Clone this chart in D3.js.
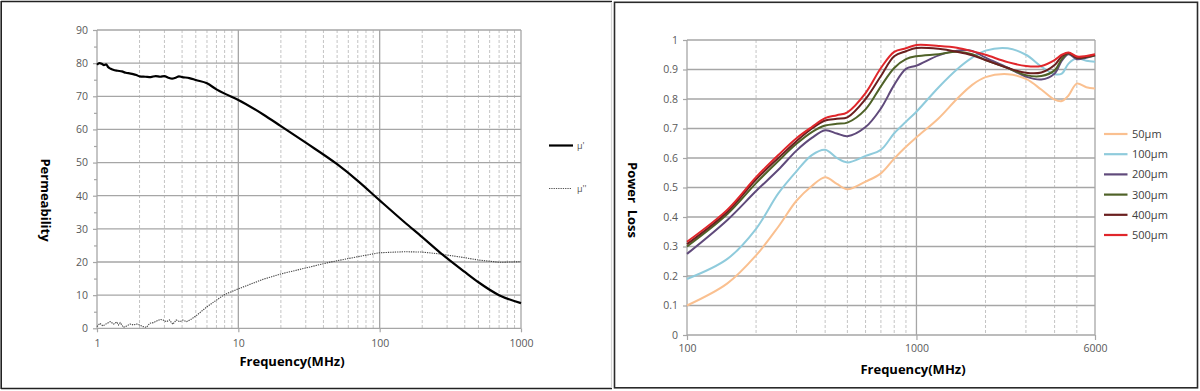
<!DOCTYPE html>
<meta charset="utf-8">
<head>
<style>
 body { margin: 0; background: #fff; }
 svg { display: block; }
 text { font-family: "Open Sans", sans-serif; }
 .tick text { fill: #595959; font-size: 10.5px; }
 .domain { display: none; }
 .title { font-weight: bold; font-size: 13px; fill: #000; }
</style>
</head>
<body>
<svg width="1200" height="391"></svg>
<script src="https://cdn.jsdelivr.net/npm/d3@7"></script>
<script>
  // permeability (left)
  var muRealFreq = [1, 1.04, 1.08, 1.12, 1.16, 1.2, 1.25, 1.3, 1.4, 1.5, 1.6, 1.7, 1.8, 1.9, 2, 2.2, 2.4, 2.6, 2.8, 3,
                    3.2, 3.4, 3.6, 3.8, 4, 4.5, 5, 6, 7, 8, 10, 15, 20, 30, 50, 70, 100, 150, 200, 270, 400, 500, 700, 1000];
  var muReal = [79.5, 80, 79.8, 79.4, 79.6, 78.8, 78.3, 78, 77.7, 77.5, 77.1, 76.9, 76.7, 76.4, 76, 75.9, 75.8, 76.1, 75.9, 76.1,
                75.6, 75.3, 75.6, 76, 75.8, 75.5, 74.9, 73.9, 72.1, 70.8, 68.9, 64.5, 61, 56, 49.5, 44.5, 38.6, 32, 27.5, 22.7,
                17, 13.9, 10, 7.6];
  var muImagFreq = [1, 1.05, 1.1, 1.18, 1.24, 1.31, 1.38, 1.42, 1.46, 1.54, 1.62, 1.72, 1.81, 1.91, 2, 2.12, 2.24, 2.36, 2.5, 2.8,
                    2.94, 3.1, 3.26, 3.44, 3.63, 3.87, 4.05, 4.3, 4.63, 5.1, 6, 7, 8, 10, 15, 20, 30, 45, 70, 100,
                    150, 200, 270, 400, 500, 700, 1000];
  var muImag = [0.5, 1.5, 0.7, 1.5, 2, 1.3, 1.9, 1, 1.7, 0.3, 0.7, 1.3, 1, 1.3, 1, 0.5, 0.3, 1.5, 1.7, 2.7,
                2.5, 2, 2.5, 1.2, 2.5, 2, 2.5, 2, 2.7, 4, 6.5, 8.5, 10.2, 11.9, 14.8, 16.4, 18.2, 20, 21.6, 22.8,
                23.1, 23, 22.4, 21.3, 20.6, 19.9, 20.1];
  var muLabels = ["\u03bc'", "\u03bc''"];
  var permTicks = [0, 10, 20, 30, 40, 50, 60, 70, 80, 90];
  var permFreqTicks = [1, 10, 100, 1000];

  // power loss (right)
  var lossFreq = [100, 150, 200, 250, 300, 350, 400, 450, 500, 600, 700, 800, 900, 1000, 1250, 1500, 1750, 2000,
                  2500, 3000, 3500, 4000, 4300, 4600, 5000, 5500, 6000];
  var loss50  = [0.100, 0.175, 0.270, 0.367, 0.455, 0.505, 0.535, 0.512, 0.494, 0.520, 0.548, 0.598, 0.638, 0.670, 0.735, 0.800, 0.848, 0.874,
                 0.884, 0.868, 0.832, 0.798, 0.793, 0.812, 0.852, 0.840, 0.836];
  var loss100 = [0.190, 0.258, 0.360, 0.480, 0.555, 0.610, 0.628, 0.600, 0.585, 0.607, 0.628, 0.684, 0.723, 0.757, 0.840, 0.900, 0.940, 0.964,
                 0.972, 0.950, 0.910, 0.884, 0.886, 0.920, 0.938, 0.930, 0.926];
  var loss200 = [0.275, 0.390, 0.488, 0.560, 0.625, 0.668, 0.694, 0.683, 0.674, 0.705, 0.768, 0.848, 0.902, 0.913, 0.948, 0.964, 0.963, 0.940,
                 0.906, 0.876, 0.866, 0.886, 0.930, 0.952, 0.935, 0.940, 0.947];
  var loss300 = [0.300, 0.410, 0.515, 0.590, 0.648, 0.688, 0.710, 0.716, 0.720, 0.765, 0.843, 0.905, 0.935, 0.945, 0.952, 0.960, 0.952, 0.932,
                 0.905, 0.881, 0.878, 0.897, 0.935, 0.955, 0.940, 0.942, 0.948];
  var loss400 = [0.308, 0.418, 0.527, 0.600, 0.657, 0.700, 0.727, 0.733, 0.738, 0.800, 0.878, 0.945, 0.962, 0.973, 0.970, 0.960, 0.948, 0.932,
                 0.905, 0.889, 0.890, 0.915, 0.945, 0.956, 0.940, 0.943, 0.950];
  var loss500 = [0.316, 0.425, 0.535, 0.610, 0.667, 0.705, 0.735, 0.745, 0.755, 0.820, 0.905, 0.960, 0.972, 0.983, 0.980, 0.974, 0.962, 0.950,
                 0.925, 0.912, 0.912, 0.932, 0.950, 0.958, 0.944, 0.946, 0.952];
  var lossNames = ["50\u03bcm", "100\u03bcm", "200\u03bcm", "300\u03bcm", "400\u03bcm", "500\u03bcm"];
  var lossColors = ["#fac090", "#8fcbdc", "#604a7b", "#4f6228", "#6a1f1f", "#e0262b"];
  var lossTicks = [0, 0.1, 0.2, 0.3, 0.4, 0.5, 0.6, 0.7, 0.8, 0.9, 1];
  var lossFreqTicks = [100, 1000, 6000];

  var svg = d3.select('svg');

  // panel frames
  var frames = svg.append('g');
  frames.append('line').attr('x1', 1).attr('x2', 612).attr('y1', 1.5).attr('y2', 1.5);
  frames.append('line').attr('x1', 1).attr('x2', 612).attr('y1', 388.5).attr('y2', 388.5);
  frames.append('line').attr('x1', 1.2).attr('x2', 1.2).attr('y1', 1).attr('y2', 389);
  frames.selectAll('line').attr('stroke', '#222').attr('stroke-width', 1.6);
  frames.append('line').attr('x1', 611.5).attr('x2', 611.5).attr('y1', 2).attr('y2', 388)
    .attr('stroke', '#d4d4d4').attr('stroke-width', 1.2);
  frames.append('rect').attr('x', 614.5).attr('y', 2.3).attr('width', 583).attr('height', 385.5)
    .attr('fill', 'none').attr('stroke', '#2a2a2a').attr('stroke-width', 1.6);

  function minorDecades(lo, hi) {
    var out = [];
    for (var d = lo; d < hi; d *= 10)
      for (var k = 2; k <= 9; k++) if (d * k < hi) out.push(d * k);
    return out;
  }

  // ---------- left chart ----------
  var xL = d3.scaleLog().domain([1, 1000]).range([97, 521]);
  var yL = d3.scaleLinear().domain([0, 90]).range([328.3, 30]);
  var gL = svg.append('g');

  gL.selectAll('.vminor').data(minorDecades(1, 1000)).enter().append('line')
    .attr('x1', d => xL(d)).attr('x2', d => xL(d)).attr('y1', yL(90)).attr('y2', yL(0))
    .attr('stroke', '#c4c4c4').attr('stroke-width', 1).attr('stroke-dasharray', '3,2');
  gL.selectAll('.hgrid').data(permTicks).enter().append('line')
    .attr('x1', xL(1)).attr('x2', xL(1000)).attr('y1', d => yL(d)).attr('y2', d => yL(d))
    .attr('stroke', '#a6a6a6').attr('stroke-width', 1.3);
  gL.selectAll('.vmajor').data(permFreqTicks).enter().append('line')
    .attr('x1', d => xL(d)).attr('x2', d => xL(d)).attr('y1', yL(90)).attr('y2', yL(0))
    .attr('stroke', '#a6a6a6').attr('stroke-width', 1.3);

  var axL = gL.append('g').attr('transform', 'translate(' + xL(1) + ',0)')
    .call(d3.axisLeft(yL).tickValues(permTicks).tickSize(4).tickPadding(5));
  gL.append('g').attr('transform', 'translate(' + xL(1) + ',0)')
    .call(d3.axisLeft(yL).tickValues(permTicks.slice(0, -1).map(d => d + 5)).tickSize(3).tickFormat(''));
  gL.append('g').attr('transform', 'translate(0,' + yL(0) + ')')
    .call(d3.axisBottom(xL).tickValues(permFreqTicks).tickFormat(d3.format('d')).tickSize(4).tickPadding(7));
  gL.selectAll('.tick line').attr('stroke', '#a6a6a6').attr('stroke-width', 1.2);

  var lineL = d3.line().x(d => xL(d[0])).y(d => yL(d[1]));
  gL.append('path').datum(d3.zip(muImagFreq, muImag))
    .attr('d', lineL).attr('fill', 'none').attr('stroke', '#444').attr('stroke-width', 1.1)
    .attr('stroke-dasharray', '1.3,1');
  gL.append('path').datum(d3.zip(muRealFreq, muReal))
    .attr('d', lineL.curve(d3.curveMonotoneX)).attr('fill', 'none').attr('stroke', '#000').attr('stroke-width', 2.2);

  gL.append('text').attr('class', 'title').attr('x', 292).attr('y', 366)
    .attr('text-anchor', 'middle').text('Frequency(MHz)');
  gL.append('text').attr('class', 'title').attr('transform', 'translate(41,200) rotate(90)')
    .attr('text-anchor', 'middle').text('Permeability');

  var legL = gL.append('g');
  legL.append('line').attr('x1', 549).attr('x2', 573).attr('y1', 145.5).attr('y2', 145.5)
    .attr('stroke', '#000').attr('stroke-width', 2.2);
  legL.append('line').attr('x1', 549).attr('x2', 571).attr('y1', 188.5).attr('y2', 188.5)
    .attr('stroke', '#555').attr('stroke-width', 1).attr('stroke-dasharray', '1.3,1');
  legL.selectAll('text').data(muLabels).enter().append('text')
    .attr('x', 577).attr('y', (d, i) => i ? 192 : 149)
    .attr('font-size', 9).attr('fill', '#555').text(d => d);

  // ---------- right chart ----------
  var xR = d3.scaleLog().domain([100, 6000]).range([687, 1095]);
  var yR = d3.scaleLinear().domain([0, 1]).range([335, 40]);
  var gR = svg.append('g');

  gR.selectAll('.vminor').data(minorDecades(100, 6000)).enter().append('line')
    .attr('x1', d => xR(d)).attr('x2', d => xR(d)).attr('y1', yR(1)).attr('y2', yR(0))
    .attr('stroke', '#c4c4c4').attr('stroke-width', 1).attr('stroke-dasharray', '3,2');
  gR.selectAll('.hgrid').data(lossTicks).enter().append('line')
    .attr('x1', xR(100)).attr('x2', xR(6000)).attr('y1', d => yR(d)).attr('y2', d => yR(d))
    .attr('stroke', '#a6a6a6').attr('stroke-width', 1.3);
  gR.selectAll('.vmajor').data(lossFreqTicks).enter().append('line')
    .attr('x1', d => xR(d)).attr('x2', d => xR(d)).attr('y1', yR(1)).attr('y2', yR(0))
    .attr('stroke', '#a6a6a6').attr('stroke-width', 1.3);

  gR.append('g').attr('transform', 'translate(' + xR(100) + ',0)')
    .call(d3.axisLeft(yR).tickValues(lossTicks).tickFormat(d3.format('~g')).tickSize(4).tickPadding(5));
  gR.append('g').attr('transform', 'translate(0,' + yR(0) + ')')
    .call(d3.axisBottom(xR).tickValues(lossFreqTicks).tickFormat(d3.format('d')).tickSize(5).tickPadding(5));
  gR.selectAll('.tick line').attr('stroke', '#a6a6a6').attr('stroke-width', 1.2);
  gR.selectAll('.tick text').attr('font-size', 11);

  var lossSeries = [loss50, loss100, loss200, loss300, loss400, loss500];
  var lineR = d3.line().x(d => xR(d[0])).y(d => yR(d[1])).curve(d3.curveCatmullRom.alpha(0.5));
  gR.selectAll('.loss').data(lossSeries).enter().append('path')
    .attr('d', s => lineR(d3.zip(lossFreq, s)))
    .attr('fill', 'none').attr('stroke', (s, i) => lossColors[i]).attr('stroke-width', 2);

  gR.append('text').attr('class', 'title').attr('x', 913).attr('y', 374)
    .attr('text-anchor', 'middle').text('Frequency(MHz)');
  gR.append('text').attr('class', 'title').attr('transform', 'translate(628,200) rotate(90)')
    .attr('text-anchor', 'middle').attr('font-size', 12).text('Power  Loss').style('white-space', 'pre');

  var legR = gR.selectAll('.leg').data(lossNames).enter().append('g')
    .attr('transform', (d, i) => 'translate(1104,' + (134 + i * 20.2) + ')');
  legR.append('line').attr('x1', 0).attr('x2', 23.5)
    .attr('stroke', (d, i) => lossColors[i]).attr('stroke-width', 2.2);
  legR.append('text').attr('x', 28).attr('y', 4).attr('font-size', 11).attr('fill', '#404040').text(d => d);
</script>
</body>
</html>
